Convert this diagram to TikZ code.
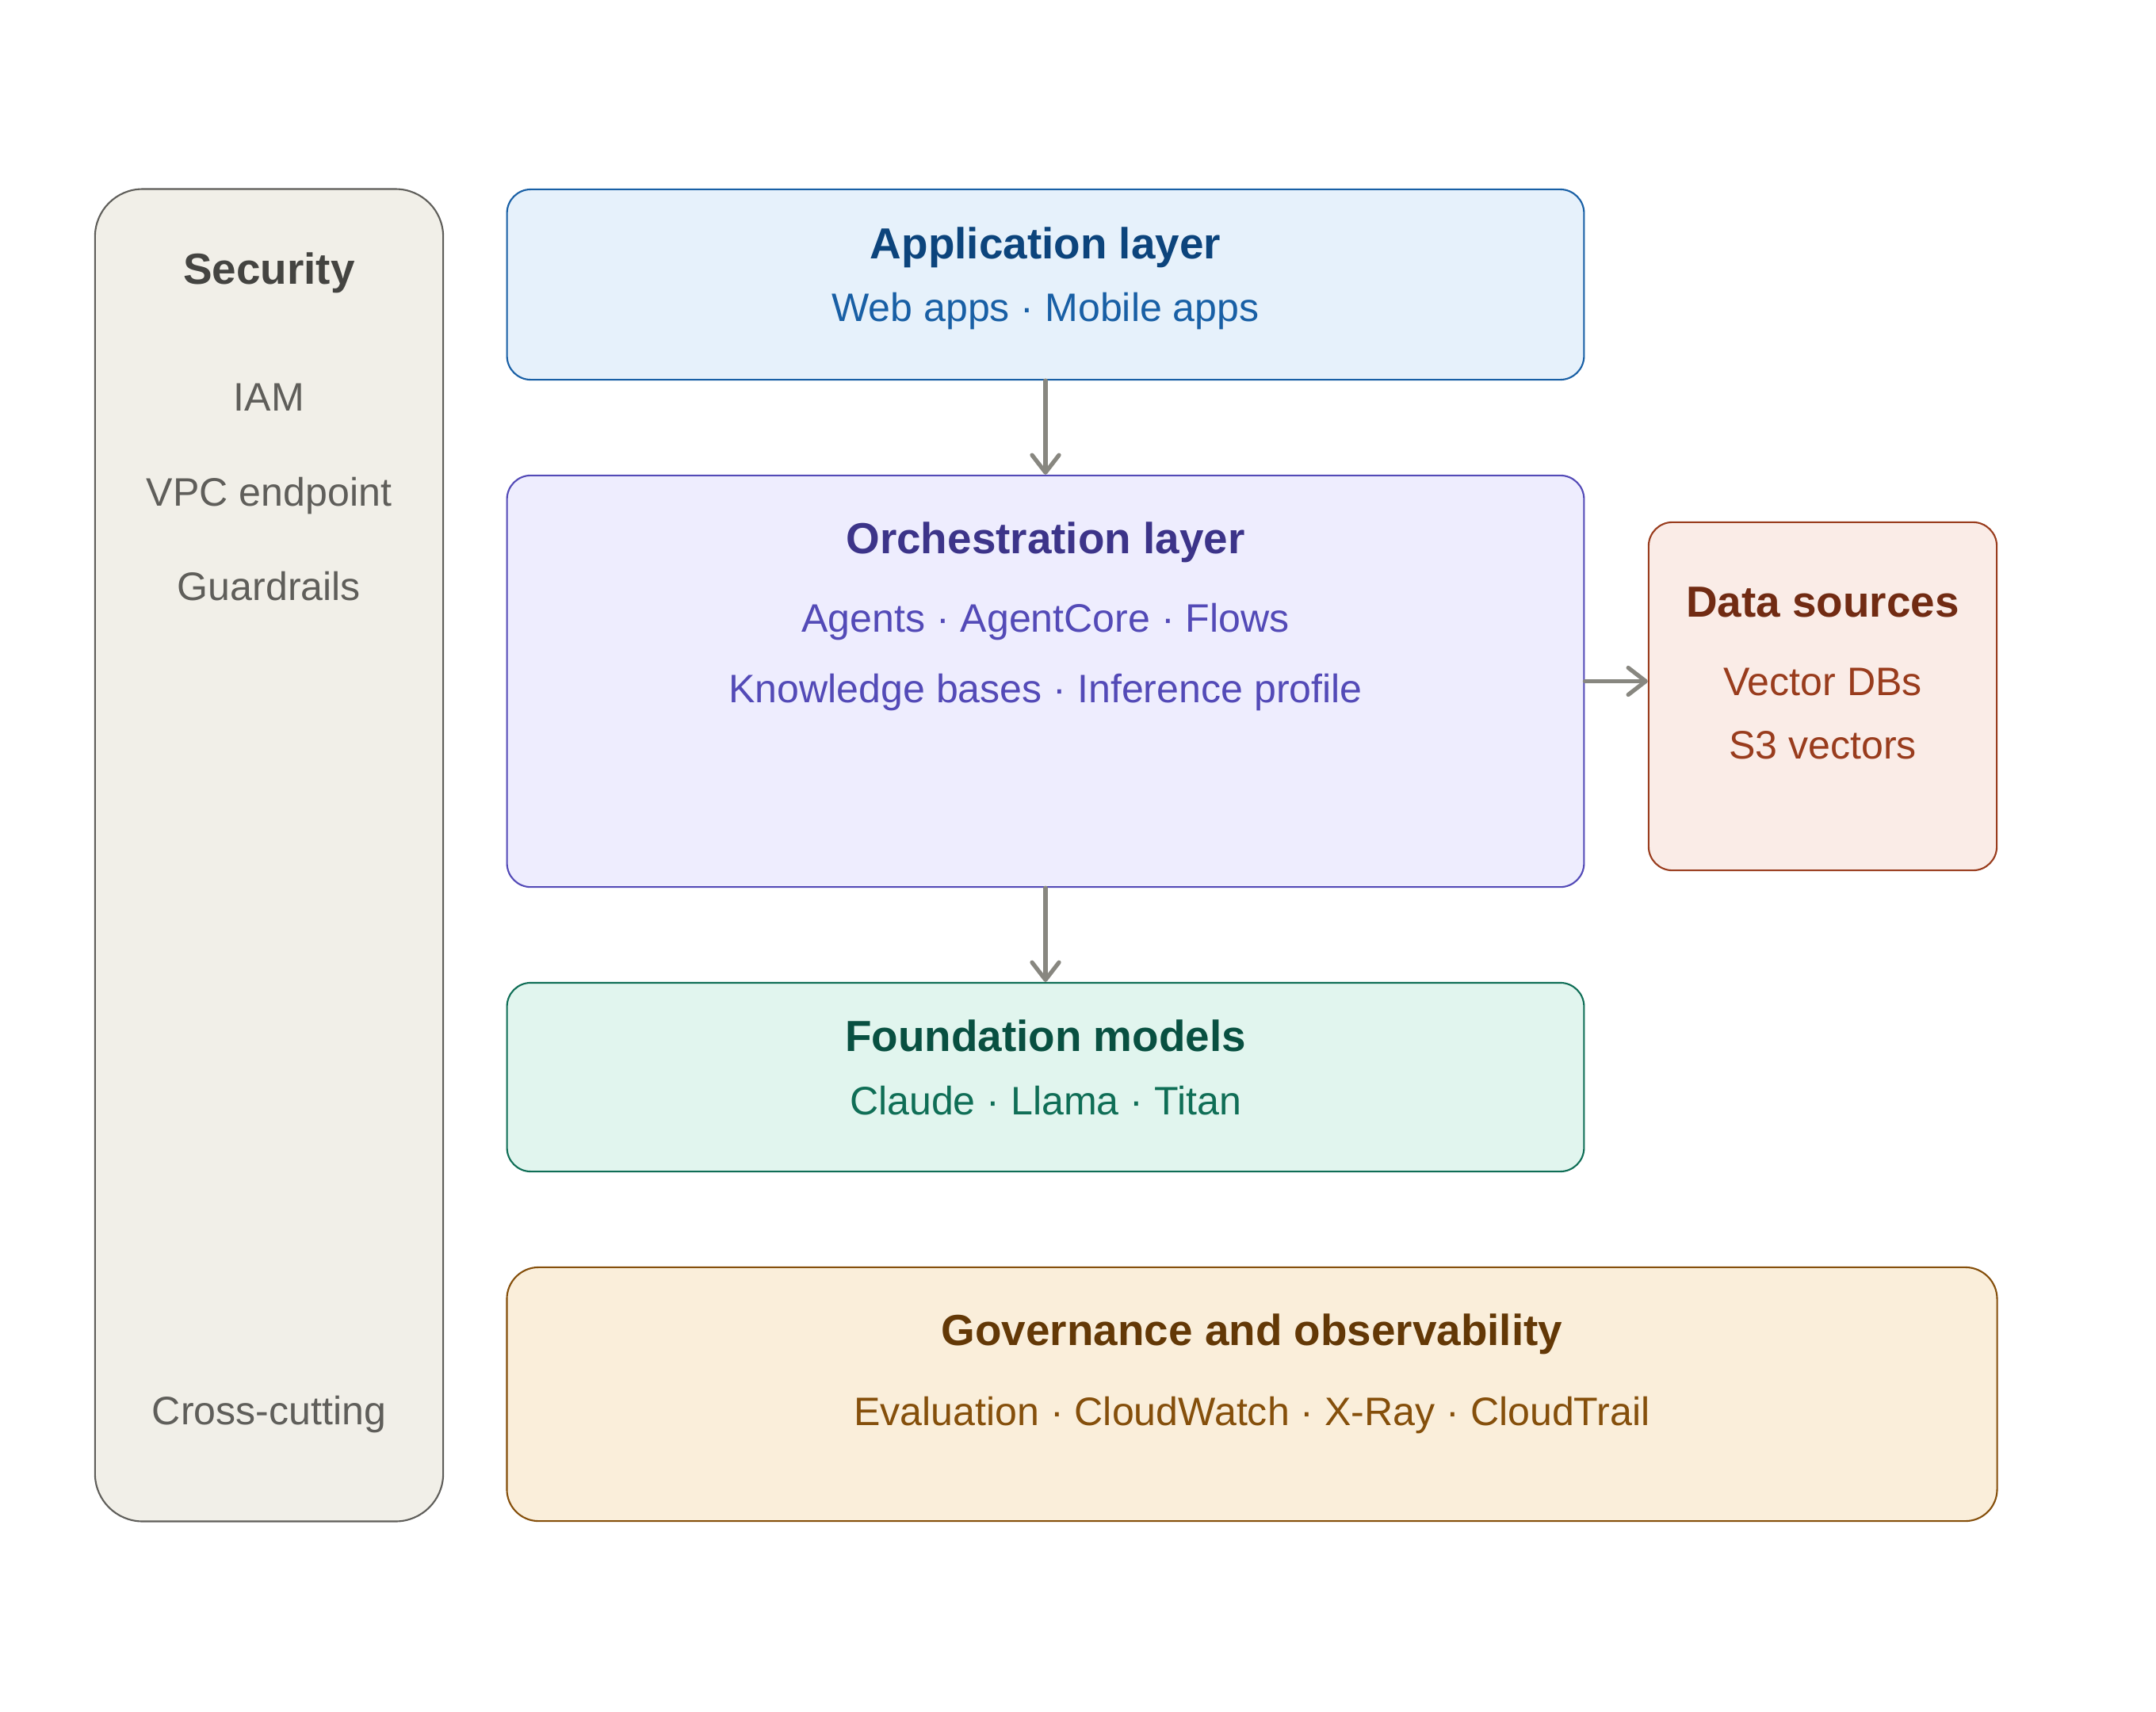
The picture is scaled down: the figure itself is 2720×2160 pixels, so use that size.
\documentclass[tikz,border=0pt]{standalone}
\usepackage{fontspec}
\setmainfont{Liberation Sans}
\usetikzlibrary{arrows.meta,calc}
\definecolor{SecFill}{HTML}{F1EFE8}
\definecolor{SecClr}{HTML}{5F5E5A}
\definecolor{SecTtl}{HTML}{444441}
\definecolor{AppFill}{HTML}{E6F1FB}
\definecolor{AppClr}{HTML}{185FA5}
\definecolor{AppTtl}{HTML}{0C447C}
\definecolor{OrchFill}{HTML}{EEEDFE}
\definecolor{OrchClr}{HTML}{534AB7}
\definecolor{OrchTtl}{HTML}{3C3489}
\definecolor{DataFill}{HTML}{FAECE7}
\definecolor{DataClr}{HTML}{993C1D}
\definecolor{DataTtl}{HTML}{712B13}
\definecolor{FmFill}{HTML}{E1F5EE}
\definecolor{FmClr}{HTML}{0F6E56}
\definecolor{FmTtl}{HTML}{085041}
\definecolor{GovFill}{HTML}{FAEEDA}
\definecolor{GovClr}{HTML}{854F0B}
\definecolor{GovTtl}{HTML}{633806}
\definecolor{ArrowClr}{HTML}{888780}

\begin{document}
\begin{tikzpicture}[x=0.01cm,y=-0.01cm,
  box/.style={draw,rounded corners=0.3cm,line width=0.6pt,inner sep=0pt},
  ttl/.style={anchor=base,font=\fontsize{15.6}{18}\selectfont\bfseries},
  sub/.style={anchor=base,font=\fontsize{14.25}{17}\selectfont},
  flow/.style={draw=ArrowClr,line width=1.5pt,line cap=round,
    -{Straight Barb[length=2.2mm,width=3.4mm,round]}}]
\useasboundingbox (0,0) rectangle (2720,2160);

\node[box,draw=SecClr,fill=SecFill,rounded corners=0.6cm,minimum width=4.39cm,minimum height=16.8cm] (sec) at (339.5,1079) {};
\node[box,draw=AppClr,fill=AppFill,minimum width=13.58cm,minimum height=2.4cm] (app) at (1319,359) {};
\node[box,draw=OrchClr,fill=OrchFill,minimum width=13.58cm,minimum height=5.19cm] (orch) at (1319,859.5) {};
\node[box,draw=DataClr,fill=DataFill,minimum width=4.39cm,minimum height=4.39cm] (data) at (2299.5,878.5) {};
\node[box,draw=FmClr,fill=FmFill,minimum width=13.58cm,minimum height=2.38cm] (fm) at (1319,1359) {};
\node[box,draw=GovClr,fill=GovFill,rounded corners=0.4cm,minimum width=18.79cm,minimum height=3.2cm] (gov) at (1579.5,1759) {};

\node[ttl,text=SecTtl] (secT) at ($(sec.north)+(0,121)$) {Security};
\node[sub,text=SecClr] (iam) at ($(sec.north)+(0,281)$) {IAM};
\node[sub,text=SecClr] (vpc) at ($(sec.north)+(0,401)$) {VPC endpoint};
\node[sub,text=SecClr] (guard) at ($(sec.north)+(0,520)$) {Guardrails};
\node[sub,text=SecClr] (cross) at ($(sec.north)+(0,1560)$) {Cross-cutting};

\node[ttl,text=AppTtl] (appT) at ($(app.north)+(0,89)$) {Application layer};
\node[sub,text=AppClr] (appS) at ($(app.north)+(0,168)$) {Web apps · Mobile apps};

\node[ttl,text=OrchTtl] (orchT) at ($(orch.north)+(0,100)$) {Orchestration layer};
\node[sub,text=OrchClr] (orchA) at ($(orch.north)+(0,199)$) {Agents · AgentCore · Flows};
\node[sub,text=OrchClr] (orchB) at ($(orch.north)+(0,288)$) {Knowledge bases · Inference profile};

\node[ttl,text=DataTtl] (dataT) at ($(data.north)+(0,121)$) {Data sources};
\node[sub,text=DataClr] (vdb) at ($(data.north)+(0,220)$) {Vector DBs};
\node[sub,text=DataClr] (s3v) at ($(data.north)+(0,300)$) {S3 vectors};

\node[ttl,text=FmTtl] (fmT) at ($(fm.north)+(0,88)$) {Foundation models};
\node[sub,text=FmClr] (fmS) at ($(fm.north)+(0,168)$) {Claude · Llama · Titan};

\node[ttl,text=GovTtl] (govT) at ($(gov.north)+(0,100)$) {Governance and observability};
\node[sub,text=GovClr] (govS) at ($(gov.north)+(0,201)$) {Evaluation · CloudWatch · X-Ray · CloudTrail};

\draw[flow] (app.south) -- (orch.north);
\draw[flow] (orch.south) -- (fm.north);
\draw[flow] (orch.east) -- (data.west |- orch.east);

\end{tikzpicture}
\end{document}
